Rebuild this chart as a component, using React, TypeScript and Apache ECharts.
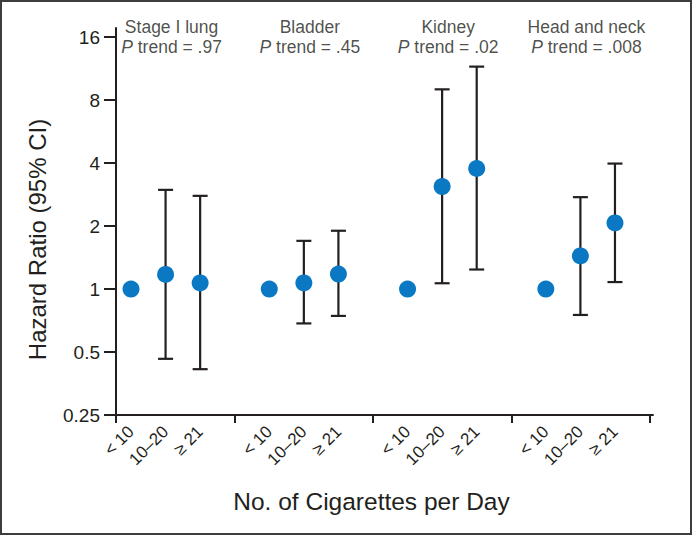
import React, { useEffect, useRef } from "react";
import * as echarts from "echarts";

const cancerSites = ["Stage I lung", "Bladder", "Kidney", "Head and neck"];
const pTrends = [".97", ".45", ".02", ".008"];
const doseLevels = ["< 10", "10–20", "≥ 21"];
const hazardRatios = [
  [1, 1.175, 1.07],
  [1, 1.07, 1.18],
  [1, 3.09, 3.77],
  [1, 1.44, 2.07],
];
const ciLower = [
  [null, 0.464, 0.414],
  [null, 0.685, 0.744],
  [null, 1.066, 1.24],
  [null, 0.752, 1.08],
];
const ciUpper = [
  [null, 2.98, 2.79],
  [null, 1.7, 1.9],
  [null, 9.01, 11.57],
  [null, 2.75, 3.98],
];
const yTickValues = [0.25, 0.5, 1, 2, 4, 8, 16];

const FONT = "'Liberation Sans', Arial, sans-serif";

export default function App() {
  const ref = useRef<HTMLDivElement>(null);
  useEffect(() => {
    document.body.style.margin = "0";
    if (!ref.current) return;
    const chart = echarts.init(ref.current, undefined, { renderer: "svg" });

    const slot = (g: number, i: number) => g * 4 + i + 1;
    const points: number[][] = [];
    const bars: number[][] = [];
    hazardRatios.forEach((row, g) =>
      row.forEach((v, i) => {
        points.push([slot(g, i), v]);
        const lo = ciLower[g][i];
        const hi = ciUpper[g][i];
        if (lo != null && hi != null) bars.push([slot(g, i), lo, hi]);
      })
    );
    const titleData = cancerSites.map((s, g) => ({
      value: [slot(g, 1), 16],
      name: s,
      pTrend: pTrends[g],
    }));
    const labelValues: number[] = [];
    cancerSites.forEach((_, g) => doseLevels.forEach((_, i) => labelValues.push(slot(g, i))));

    const xMin = 0.566;
    const option: any = {
      animation: false,
      backgroundColor: "#ffffff",
      textStyle: { fontFamily: FONT },
      grid: { left: 116, right: 39, top: 28, bottom: 120, containLabel: false },
      xAxis: {
        type: "value",
        min: xMin,
        max: 16.1,
        name: "No. of Cigarettes per Day",
        nameLocation: "middle",
        nameGap: 74,
        nameTextStyle: {
          fontSize: 24.5,
          color: "#231f20",
          fontFamily: FONT,
          verticalAlign: "top",
          padding: [0, 26, 0, 0],
        },
        axisLine: { show: true, lineStyle: { color: "#231f20", width: 2 } },
        axisTick: {
          show: true,
          length: 8,
          customValues: [xMin, 4, 8, 12, 16],
          lineStyle: { color: "#231f20", width: 2 },
        },
        axisLabel: {
          customValues: labelValues,
          rotate: 45,
          margin: 14,
          fontSize: 17,
          color: "#231f20",
          fontFamily: FONT,
          formatter: (v: number) => doseLevels[Math.round(v - 1) % 4] ?? "",
        },
        splitLine: { show: false },
      },
      yAxis: {
        type: "log",
        logBase: 2,
        min: 0.25,
        max: 17.7,
        name: "Hazard Ratio (95% CI)",
        nameLocation: "middle",
        nameGap: 67,
        nameTextStyle: {
          fontSize: 24,
          color: "#231f20",
          fontFamily: FONT,
          padding: [0, 36, 0, 0],
        },
        axisLine: { show: true, lineStyle: { color: "#231f20", width: 2 } },
        axisTick: {
          show: true,
          length: 12,
          customValues: yTickValues,
          lineStyle: { color: "#231f20", width: 2 },
        },
        axisLabel: {
          customValues: yTickValues,
          margin: 16,
          fontSize: 19,
          color: "#231f20",
          fontFamily: FONT,
          formatter: (v: number) => String(v),
        },
        splitLine: { show: false },
        minorTick: { show: false },
      },
      series: [
        {
          type: "custom",
          z: 1,
          data: bars,
          renderItem: (params: any, api: any) => {
            const x = api.value(0);
            const pLo = api.coord([x, api.value(1)]);
            const pHi = api.coord([x, api.value(2)]);
            const w = 7.5;
            const style = { stroke: "#231f20", lineWidth: 2.2 };
            return {
              type: "group",
              children: [
                { type: "line", shape: { x1: pLo[0], y1: pLo[1], x2: pHi[0], y2: pHi[1] }, style },
                { type: "line", shape: { x1: pLo[0] - w, y1: pLo[1], x2: pLo[0] + w, y2: pLo[1] }, style },
                { type: "line", shape: { x1: pHi[0] - w, y1: pHi[1], x2: pHi[0] + w, y2: pHi[1] }, style },
              ],
            };
          },
        },
        {
          type: "scatter",
          z: 3,
          symbol: "circle",
          symbolSize: 17,
          itemStyle: { color: "#0a78c2", opacity: 1 },
          data: points,
        },
        {
          type: "scatter",
          z: 4,
          symbolSize: 0,
          silent: true,
          data: titleData,
          label: {
            show: true,
            position: "inside",
            offset: [6, 0],
            color: "#231f20",
            fontFamily: FONT,
            fontSize: 17.5,
            lineHeight: 20,
            formatter: (p: any) =>
              `{a|${p.data.name}}\n{i|P}{a| trend = ${p.data.pTrend}}`,
            rich: {
              a: { fontSize: 17.5, fontFamily: FONT, color: "#231f20", lineHeight: 20 },
              i: { fontSize: 17.5, fontFamily: FONT, color: "#231f20", fontStyle: "italic", lineHeight: 20 },
            },
          },
        },
      ],
      graphic: [
        {
          type: "rect",
          silent: true,
          shape: { x: 1, y: 1, width: 690, height: 533 },
          style: { fill: "none", stroke: "#3d3d3d", lineWidth: 2 },
        },
      ],
    };
    chart.setOption(option);
    return () => chart.dispose();
  }, []);
  return <div ref={ref} style={{ width: 692, height: 535 }} />;
}
